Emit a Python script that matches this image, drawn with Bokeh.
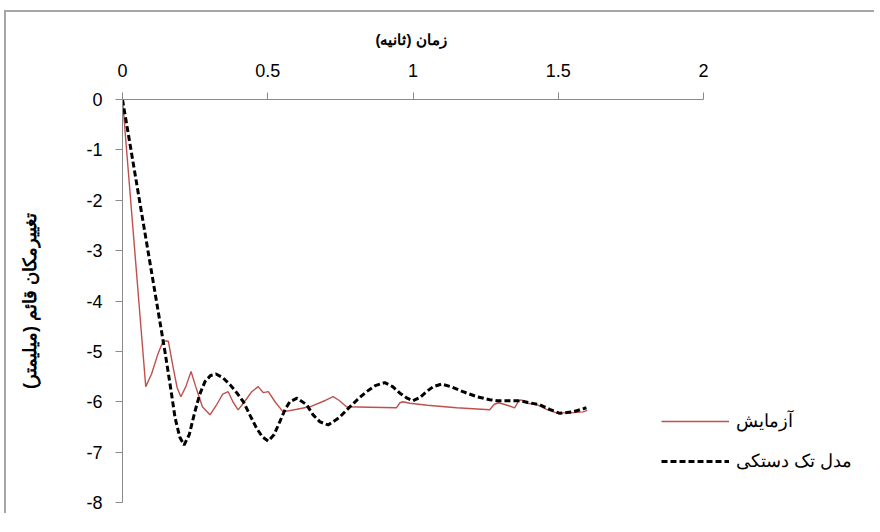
from bokeh.plotting import figure
from bokeh.models import Range1d, Legend, LegendItem, FixedTicker
from bokeh.embed import file_html
from bokeh.resources import INLINE

# Experiment (آزمایش)
exp_t = [0.0, 0.080, 0.100, 0.122, 0.140, 0.158, 0.172, 0.188, 0.201, 0.218, 0.236, 0.252,
         0.275, 0.301, 0.325, 0.345, 0.364, 0.380, 0.398, 0.420, 0.445, 0.467, 0.485, 0.502,
         0.525, 0.553, 0.600, 0.645, 0.700, 0.725, 0.745, 0.771, 0.850, 0.943, 0.955,
         0.965, 0.989, 1.050, 1.150, 1.264, 1.280, 1.295, 1.330, 1.350, 1.362, 1.372,
         1.390, 1.425, 1.460, 1.494, 1.540, 1.585, 1.600]
exp_y = [0.0, -5.70, -5.45, -5.05, -4.79, -4.80, -5.25, -5.72, -5.90, -5.70, -5.40, -5.70,
         -6.10, -6.26, -6.05, -5.85, -5.80, -6.00, -6.16, -6.00, -5.80, -5.70, -5.82, -5.80,
         -6.00, -6.20, -6.15, -6.10, -5.97, -5.90, -5.97, -6.10, -6.11, -6.12, -6.02,
         -6.00, -6.03, -6.07, -6.12, -6.16, -6.05, -6.02, -6.08, -6.12, -6.00, -5.96,
         -6.03, -6.05, -6.15, -6.22, -6.22, -6.20, -6.17]

# Single-DOF model (مدل تک دستکی)
mod_t = [0.0, 0.146, 0.165, 0.181, 0.197, 0.212, 0.230, 0.249, 0.266, 0.284, 0.303, 0.322,
         0.345, 0.370, 0.393, 0.416, 0.440, 0.462, 0.482, 0.502, 0.522, 0.542, 0.560, 0.576,
         0.601, 0.634, 0.656, 0.680, 0.708, 0.745, 0.783, 0.810, 0.840, 0.870, 0.903, 0.930,
         0.955, 0.980, 1.000, 1.023, 1.046, 1.070, 1.098, 1.130, 1.172, 1.220, 1.264, 1.290,
         1.330, 1.367, 1.400, 1.436, 1.470, 1.505, 1.551, 1.597]
mod_y = [0.0, -5.00, -5.70, -6.32, -6.70, -6.86, -6.65, -6.20, -5.85, -5.60, -5.48, -5.45,
         -5.52, -5.66, -5.82, -6.00, -6.28, -6.53, -6.70, -6.78, -6.65, -6.39, -6.15, -6.00,
         -5.93, -6.06, -6.26, -6.40, -6.46, -6.32, -6.10, -5.95, -5.80, -5.68, -5.62, -5.70,
         -5.83, -5.93, -5.98, -5.92, -5.80, -5.70, -5.65, -5.70, -5.80, -5.90, -5.96, -5.98,
         -5.98, -5.98, -6.02, -6.06, -6.15, -6.23, -6.20, -6.12]

x_ticks = [0, 0.5, 1, 1.5, 2]
y_ticks = [0, -1, -2, -3, -4, -5, -6, -7, -8]

x_title = "زمان (ثانیه)"
y_title = "تغییرمکان قائم (میلیمتر)"
exp_label = "آزمایش"
mod_label = "مدل تک دستکی"

FONT = "Liberation Sans"
AXIS_COL = "#8a8a8a"

W, H = 870, 503
LEFT, TOP, BOTTOM, RIGHT = 116, 87, 13, 2
frame_w = W - LEFT - RIGHT
x_max = 2 * frame_w / 581.0   # axis 0..2 spans 581 px; frame continues right for the legend

p = figure(width=W, height=H, output_backend="svg", toolbar_location=None,
           x_axis_location="above", x_range=Range1d(0, x_max), y_range=Range1d(-8, 0),
           min_border_left=LEFT, min_border_top=TOP, min_border_right=RIGHT,
           min_border_bottom=BOTTOM,
           styles={"margin-left": "4px", "margin-top": "10px",
                   "border-left": "2px solid #a6a6a6", "border-top": "2px solid #a6a6a6"})
p.outline_line_color = None
p.xgrid.grid_line_color = None
p.ygrid.grid_line_color = None
p.background_fill_color = "white"
p.border_fill_color = "white"

p.title.text = x_title
p.title.align = "left"
p.title.offset = 253
p.title.text_font = FONT
p.title.text_font_size = "15px"
p.title.text_font_style = "bold"
p.title.text_color = "black"
p.title.standoff = 25

for ax in (p.xaxis[0], p.yaxis[0]):
    ax.axis_line_color = AXIS_COL
    ax.major_tick_line_color = AXIS_COL
    ax.minor_tick_line_color = None
    ax.major_tick_in = 0
    ax.major_tick_out = 7
    ax.major_label_text_font = FONT
    ax.major_label_text_font_size = "18px"
    ax.major_label_text_color = "black"
    ax.axis_label_text_font = FONT
    ax.axis_label_text_font_style = "bold"
    ax.axis_label_text_color = "black"

xa, ya = p.xaxis[0], p.yaxis[0]
xa.bounds = (0, 2)
xa.ticker = FixedTicker(ticks=x_ticks)
ya.ticker = FixedTicker(ticks=y_ticks)
xa.major_label_overrides = {t: str(t) for t in x_ticks}
ya.major_label_overrides = {t: str(t) for t in y_ticks}
ya.axis_label = y_title
ya.axis_label_text_font_size = "18px"
xa.major_label_standoff = 16
ya.major_label_standoff = 13
ya.axis_label_standoff = 43

r_exp = p.line(exp_t, exp_y, line_color="#c0504d", line_width=1.4)
r_mod = p.line(mod_t, mod_y, line_color="black", line_width=3, line_dash="6 3")

legend = Legend(items=[LegendItem(label=exp_label, renderers=[r_exp]),
                       LegendItem(label=mod_label, renderers=[r_mod])],
                location=(539, 30), orientation="vertical",
                glyph_width=68, glyph_height=20, label_height=20, spacing=18,
                label_standoff=7, padding=0, margin=0,
                border_line_color=None, background_fill_alpha=0,
                label_text_font=FONT, label_text_font_size="18px", label_text_color="black")
p.add_layout(legend)

open("out.html", "w").write(file_html(p, INLINE))
